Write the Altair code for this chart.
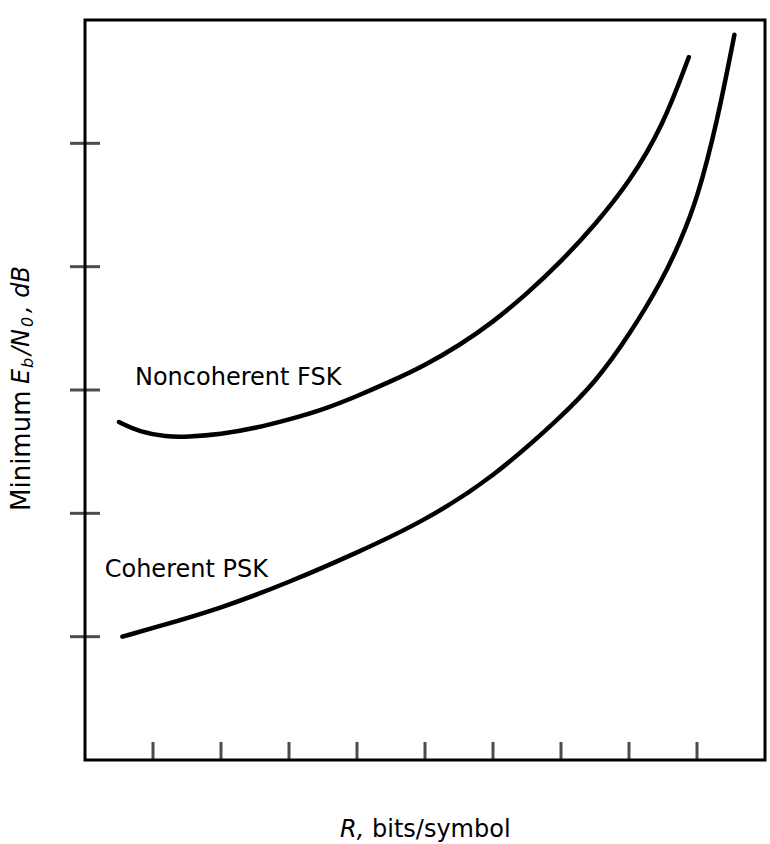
import altair as alt
import pandas as pd

# Minimum Eb/N0 (dB) versus code rate R (bits/symbol)
psk_r = [0.055, 0.1, 0.2, 0.3, 0.4, 0.5, 0.6, 0.7, 0.75, 0.8, 0.85, 0.875, 0.9, 0.93, 0.955]
psk_db = [5.0, 5.35, 6.15, 7.2, 8.4, 9.7, 11.45, 13.9, 15.3, 17.2, 19.5, 21.0, 22.7, 25.9, 29.4]

fsk_r = [0.05, 0.08, 0.12, 0.15, 0.2, 0.25, 0.3, 0.35, 0.4, 0.45, 0.5, 0.55, 0.6,
         0.65, 0.7, 0.75, 0.8, 0.85, 0.888]
fsk_db = [13.7, 13.3, 13.1, 13.1, 13.2, 13.45, 13.8, 14.2, 14.75, 15.35, 16.0, 16.8,
          17.75, 18.9, 20.2, 21.7, 23.4, 25.7, 28.5]

curve_names = ["Noncoherent FSK", "Coherent PSK"]
label_r = [0.0735, 0.029]
label_db = [15.5, 7.7]

x_tick_values = [0.1, 0.2, 0.3, 0.4, 0.5, 0.6, 0.7, 0.8, 0.9]
x_label_values = [0, 0.1, 0.2, 0.3, 0.4, 0.5, 0.6, 0.7, 0.8, 0.9, 1]
y_tick_values = [5, 10, 15, 20, 25]
y_label_values = [5, 10, 15, 20, 25, 30]

W, H = 680, 740
NUM_FONT = "Liberation Sans"
TXT_FONT = "DejaVu Sans"

curves = pd.concat([
    pd.DataFrame({"R": fsk_r, "dB": fsk_db, "curve": curve_names[0]}),
    pd.DataFrame({"R": psk_r, "dB": psk_db, "curve": curve_names[1]}),
])
x_tick_df = pd.DataFrame({"R": x_tick_values})
y_tick_df = pd.DataFrame({"dB": y_tick_values})

x_scale = alt.Scale(domain=[0, 1], nice=False, zero=False)
y_scale = alt.Scale(domain=[0, 30], nice=False)

x_axis = alt.Axis(
    values=x_label_values,
    labelExpr="datum.value == 0 ? '0' : datum.value == 1 ? '1' : format(datum.value, '.1f')",
    labelOffset={
        "condition": [
            {"test": "datum.value === 0", "value": -19},
            {"test": "datum.value === 1", "value": -2},
        ],
        "value": 0,
    },
    labelFlush=False, labelOverlap=False, labelPadding=11,
    labelFont=NUM_FONT, labelFontSize=23, labelFontWeight="bold", labelColor="black",
    ticks=False, tickSize=0, domain=False, grid=False, title=None,
)
y_axis = alt.Axis(
    values=y_label_values,
    labelFlush=False, labelOverlap=False, labelPadding=10,
    labelFont=NUM_FONT, labelFontSize=23, labelFontWeight="bold", labelColor="black",
    ticks=False, tickSize=0, domain=False, grid=False, title=None,
)

lines = alt.Chart(curves).mark_line(
    color="black", strokeWidth=4.5, interpolate="basis", strokeCap="round"
).encode(
    x=alt.X("R:Q", scale=x_scale, axis=x_axis),
    y=alt.Y("dB:Q", scale=y_scale, axis=y_axis),
    detail="curve:N",
)

# inward tick marks: short filled bars standing on the bottom edge / left edge
x_ticks = alt.Chart(x_tick_df).mark_tick(
    color="#000000", fill="#000000", filled=True, thickness=3, size=18, orient="vertical"
).encode(
    x=alt.X("R:Q", scale=x_scale, axis=None),
    y=alt.value(H - 9),
)
y_ticks = alt.Chart(y_tick_df).mark_tick(
    color="#000000", fill="#000000", filled=True, thickness=3, size=30, orient="horizontal"
).encode(
    y=alt.Y("dB:Q", scale=y_scale, axis=None),
    x=alt.value(0),
)

labels = alt.Chart(pd.DataFrame({"R": label_r, "dB": label_db, "name": curve_names})).mark_text(
    align="left", baseline="middle", font=TXT_FONT, fontSize=24, color="black"
).encode(
    x=alt.X("R:Q", scale=x_scale, axis=None),
    y=alt.Y("dB:Q", scale=y_scale, axis=None),
    text="name:N",
)


def title_piece(text, x, y, italic=False, size=24, angle=0):
    return alt.Chart(pd.DataFrame({"t": [text]})).mark_text(
        align="left", baseline="middle", font=TXT_FONT, fontSize=size,
        fontStyle="italic" if italic else "normal", color="black", angle=angle,
    ).encode(text="t:N", x=alt.value(x), y=alt.value(y))


# x-axis title: "R, bits/symbol"
x_title = [
    title_piece("R,", 255, 810, italic=True),
    title_piece("bits/symbol", 287, 810),
]

# y-axis title: "Minimum E_b/N_0, dB", rotated to read upward
yx = -63
y_title = [
    title_piece("Minimum", yx, 491, size=26, angle=270),
    title_piece("E", yx, 364, italic=True, angle=270),
    title_piece("b", yx + 6, 348, italic=True, size=16, angle=270),
    title_piece("/N", yx, 335, italic=True, angle=270),
    title_piece("0", yx + 6, 307, italic=True, size=16, angle=270),
    title_piece(", dB", yx, 293, italic=True, angle=270),
]

chart = alt.layer(lines, labels, *x_title, *y_title, x_ticks, y_ticks).properties(
    width=W, height=H,
    autosize=alt.AutoSizeParams(type="none"),
    padding={"left": 85, "top": 20, "right": 5, "bottom": 84},
    background="white",
).configure_view(stroke="black", strokeWidth=3)

chart.save("out.html", embed_options={"renderer": "svg", "actions": False})
